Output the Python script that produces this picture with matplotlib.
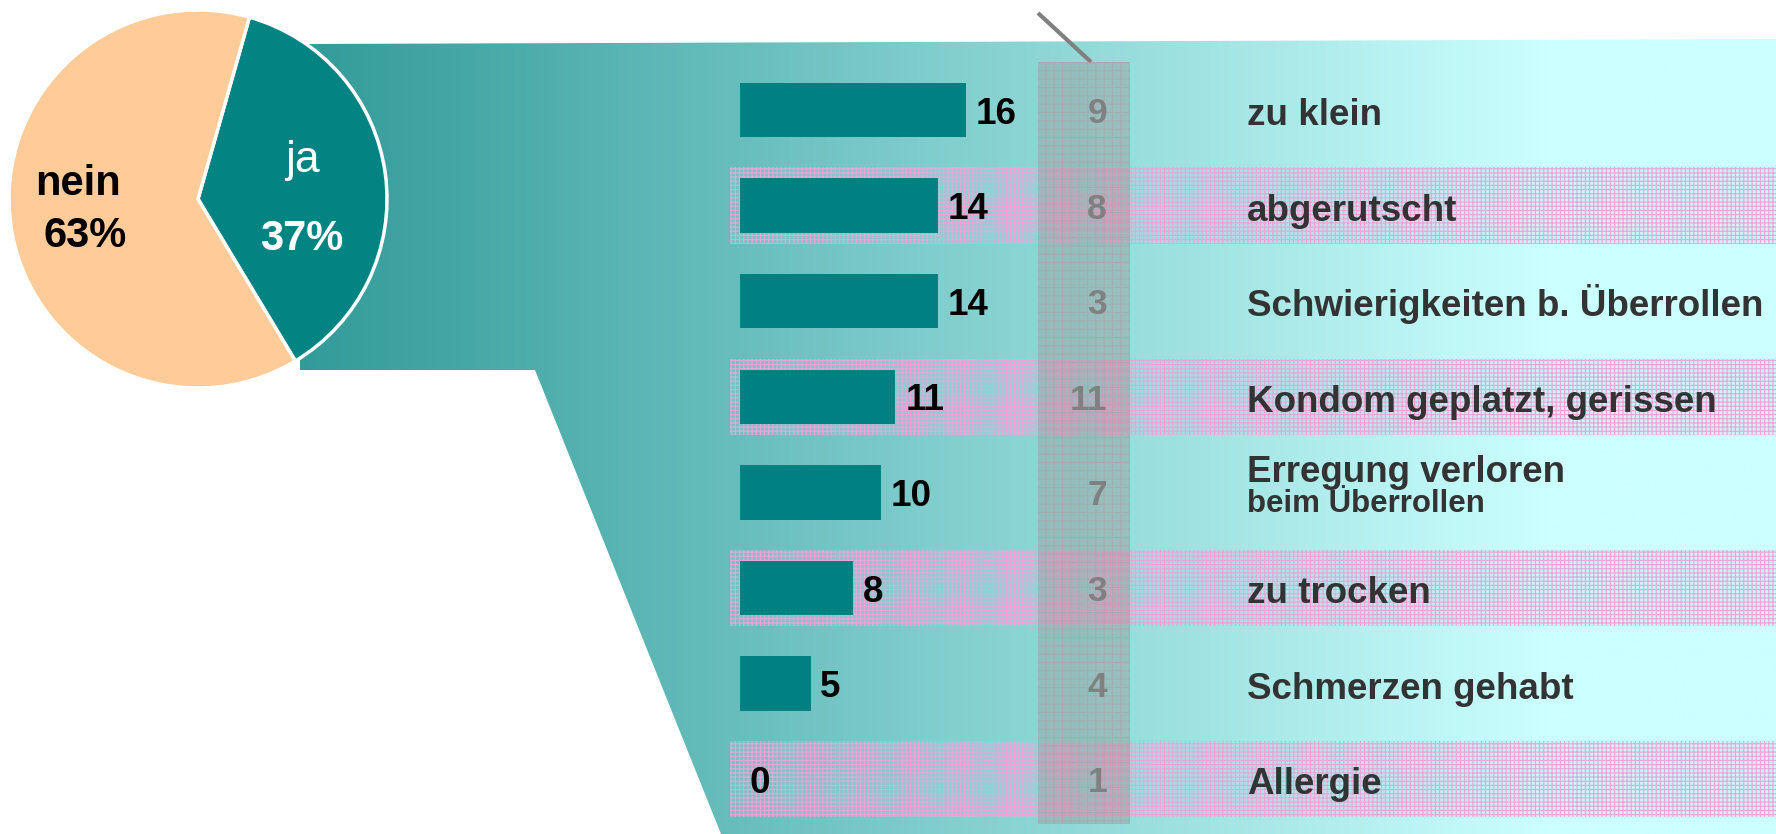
import matplotlib.pyplot as plt
import numpy as np
from matplotlib.colors import LinearSegmentedColormap
from matplotlib.patches import Polygon, Rectangle
from matplotlib.transforms import blended_transform_factory

plt.rcParams['font.family'] = ['Liberation Sans', 'DejaVu Sans']
plt.rcParams['hatch.linewidth'] = 0.8

# data
pie_labels = ['ja', 'nein']
pie_values = [37, 63]

reasons = ['zu klein', 'abgerutscht', 'Schwierigkeiten b. Überrollen',
           'Kondom geplatzt, gerissen', 'Erregung verloren', 'zu trocken',
           'Schmerzen gehabt', 'Allergie']
reason_sub = ['', '', '', '', 'beim Überrollen', '', '', '']
counts_a = [16, 14, 14, 11, 10, 8, 5, 0]
counts_b = [9, 8, 3, 11, 7, 3, 4, 1]

W, H = 1776, 834
fig = plt.figure(figsize=(W / 100, H / 100), dpi=100)

# background layer in pixel coordinates
bg = fig.add_axes([0, 0, 1, 1])
fade = LinearSegmentedColormap.from_list(
    'fade', [(0, '#329B99'), (0.847, '#CCFFFF'), (1, '#CCFFFF')])
im = bg.imshow(np.linspace(0, 1, 512)[None, :], cmap=fade, aspect='auto',
               extent=(300, W, H, 39), interpolation='bilinear')
funnel = Polygon([(308, 44), (W, 39), (W, H), (721, H), (535, 370), (284, 370)],
                 closed=True, facecolor='none', edgecolor='none')
bg.add_patch(funnel)
im.set_clip_path(funnel)
bg.plot([1038, 1091], [13, 62], color='#808080', lw=3, solid_capstyle='butt')
bg.set_xlim(0, W)
bg.set_ylim(H, 0)
bg.axis('off')

# bar layer
px_unit = 14.13
x0 = 740
row0, row_h = 110, 95.6
ax = fig.add_axes([730 / W, 0, (W - 730) / W, 1])
ax.set_xlim(-(x0 - 730) / px_unit, (W - x0) / px_unit)
ax.set_ylim((H - row0) / row_h, -row0 / row_h)
ax.axis('off')

y = np.arange(len(reasons))
for i in y[1::2]:
    ax.axhspan(i - 0.4, i + 0.4, facecolor=(0.93, 0.72, 0.88, 0.2),
               edgecolor='#E6A8D8', hatch='++++', lw=0, zorder=0)

col = Rectangle((1038, 62), 92, 762, transform=bg.transData,
                facecolor=(0.6, 0.6, 0.6, 0.42), edgecolor=(0.7, 0.62, 0.66, 0.55),
                hatch='++', lw=0, zorder=1)
ax.add_patch(col)

bars = ax.barh(y, counts_a, height=0.57, color='#008080', zorder=2)
for b, v in zip(bars, counts_a):
    ax.annotate(str(v), (b.get_width(), b.get_y() + b.get_height() / 2),
                xytext=(7, 0), textcoords='offset points', ha='left',
                va='center_baseline', fontsize=26.5, fontweight='bold',
                color='black', zorder=3)

tr = blended_transform_factory(bg.transData, ax.transData)
for i, v in zip(y, counts_b):
    ax.text(1107, i, str(v), transform=tr, ha='right', va='center_baseline',
            fontsize=25.5, fontweight='bold', color='#808080', zorder=3)

for i, (lab, sub) in enumerate(zip(reasons, reason_sub)):
    if sub:
        ax.text(1247, i - 10 / row_h, lab, transform=tr, ha='left', va='baseline',
                fontsize=26.5, fontweight='bold', color='#333333')
        ax.text(1247, i + 20 / row_h, sub, transform=tr, ha='left', va='baseline',
                fontsize=22.5, fontweight='bold', color='#333333')
    else:
        ax.text(1247, i + 15 / row_h, lab, transform=tr, ha='left', va='baseline',
                fontsize=26.5, fontweight='bold', color='#333333')

# pie
pr = 189
pcx, pcy = 198, 199
lim = 1.05
pax = fig.add_axes([(pcx - pr * lim) / W, (H - pcy - pr * lim) / H,
                    2 * pr * lim / W, 2 * pr * lim / H])
pax.pie(pie_values, colors=['#038483', '#FFCC99'], startangle=74.2,
        counterclock=False, wedgeprops=dict(edgecolor='white', linewidth=2.5))
pax.set_xlim(-lim, lim)
pax.set_ylim(-lim, lim)

pax.text(0.55, 0.143, pie_labels[0], color='white', fontsize=32,
         ha='center', va='baseline')
pax.text(0.55, -0.27, f'{pie_values[0]}%', color='white', fontsize=30,
         fontweight='bold', ha='center', va='baseline')
pax.text(-0.635, 0.021, pie_labels[1], color='black', fontsize=30,
         fontweight='bold', ha='center', va='baseline')
pax.text(-0.598, -0.254, f'{pie_values[1]}%', color='black', fontsize=30,
         fontweight='bold', ha='center', va='baseline')

fig.savefig('out.png', dpi=100)
